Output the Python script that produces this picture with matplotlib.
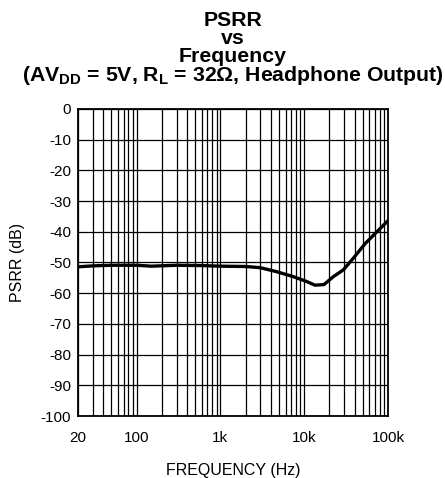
import matplotlib
matplotlib.use("Agg")
import matplotlib.pyplot as plt
from matplotlib.ticker import FixedLocator, NullFormatter, NullLocator

plt.rcParams['font.family'] = ['Liberation Sans', 'DejaVu Sans']
plt.rcParams['axes.unicode_minus'] = False
plt.rcParams['mathtext.fontset'] = 'custom'
plt.rcParams['mathtext.rm'] = 'Liberation Sans:bold'
plt.rcParams['mathtext.bf'] = 'Liberation Sans:bold'
plt.rcParams['mathtext.it'] = 'Liberation Sans:bold'

freq_hz = [20, 30, 50, 100, 150, 300, 600, 1000, 2000, 3000, 4700, 7400,
           10700, 13500, 17200, 22300, 29300, 38600, 53200, 73000, 100000]
psrr_db = [-51.4, -51.1, -50.9, -50.9, -51.2, -50.9, -51.0, -51.2, -51.3, -51.7, -53.0, -54.6,
           -56.2, -57.4, -57.2, -54.6, -52.4, -48.6, -43.9, -40.1, -36.4]

xtick_vals = [20, 100, 1000, 10000, 100000]
xtick_labels = ['20', '100', '1k', '10k', '100k']
ytick_vals = list(range(-100, 1, 10))

fig = plt.figure(figsize=(4.45, 4.78), dpi=100)
ax = fig.add_axes([0.1753, 0.1297, 0.6966, 0.6423])

ax.set_xscale('log')
ax.set_xlim(20, 100000)
ax.set_ylim(-100, 0)

minor = []
for dec in [10, 100, 1000, 10000]:
    for m in range(2, 10):
        v = dec * m
        if 20 < v < 100000:
            minor.append(v)
ax.xaxis.set_major_locator(FixedLocator(xtick_vals))
ax.set_xticklabels(xtick_labels)
ax.xaxis.set_minor_locator(FixedLocator(minor))
ax.xaxis.set_minor_formatter(NullFormatter())
ax.set_yticks(ytick_vals)
ax.yaxis.set_minor_locator(NullLocator())

ax.grid(True, which='both', axis='x', color='black', linewidth=0.9)
ax.grid(True, which='major', axis='y', color='black', linewidth=0.9)
ax.tick_params(which='both', length=0, labelsize=11)
ax.tick_params(axis='x', pad=11)
ax.tick_params(axis='y', pad=5)
for s in ax.spines.values():
    s.set_linewidth(1.3)
    s.set_color('black')

ax.plot(freq_hz, psrr_db, color='black', linewidth=2.4, zorder=5)

ax.set_xlabel('FREQUENCY (Hz)', fontsize=11.5, labelpad=13)
ax.set_ylabel('PSRR (dB)', fontsize=11.5, labelpad=11)

title = ('PSRR\nvs\nFrequency\n'
         r'(AV$_{\mathrm{DD}}$ = 5V, R$_{\mathrm{L}}$ = 32Ω, Headphone Output)')
ax.set_title(title, fontsize=15.3, fontweight='bold', linespacing=0.92, pad=20)

fig.savefig('out.png', dpi=100)
